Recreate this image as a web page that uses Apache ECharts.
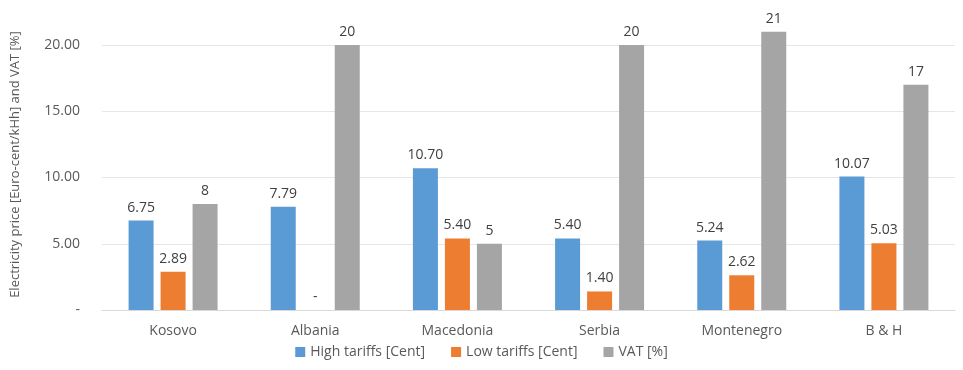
<!DOCTYPE html>
<html>
<head>
<meta charset="utf-8">
<script src="https://cdn.jsdelivr.net/npm/echarts@6/dist/echarts.min.js"></script>
<style>
  html, body { margin: 0; padding: 0; background: #fff; }
  #chart { width: 963px; height: 370px; }
</style>
</head>
<body>
<div id="chart"></div>
<script>
var countries = ['Kosovo', 'Albania', 'Macedonia', 'Serbia', 'Montenegro', 'B & H'];
var highTariffs = [6.75, 7.79, 10.70, 5.40, 5.24, 10.07];
var lowTariffs = [2.89, 0, 5.40, 1.40, 2.62, 5.03];
var vat = [8, 20, 5, 20, 21, 17];

var font = 'Open Sans';
var myChart = echarts.init(document.getElementById('chart'));

function priceFmt(p) {
  return p.value === 0 ? '-' : p.value.toFixed(2);
}

var labelStyle = {
  show: true,
  position: 'top',
  distance: 6,
  color: '#404040',
  fontSize: 14,
  fontFamily: font
};

var option = {
  textStyle: { fontFamily: font },
  grid: { left: 102, right: 8, top: 45, bottom: 60 },
  legend: {
    bottom: 6,
    left: 'center',
    icon: 'rect',
    itemWidth: 10,
    itemHeight: 10,
    itemGap: 26,
    textStyle: { color: '#595959', fontSize: 14, fontFamily: font },
    data: ['High tariffs [Cent]', 'Low tariffs [Cent]', 'VAT [%]']
  },
  xAxis: {
    type: 'category',
    data: countries,
    axisTick: { show: false },
    axisLine: { lineStyle: { color: '#d9d9d9' } },
    axisLabel: { color: '#595959', fontSize: 14, margin: 14, fontFamily: font }
  },
  yAxis: {
    type: 'value',
    min: 0,
    max: 20,
    interval: 5,
    name: 'Electricity price [Euro-cent/kHh] and VAT [%]',
    nameLocation: 'middle',
    nameGap: 80,
    nameTextStyle: { color: '#595959', fontSize: 13, fontFamily: font, padding: [0, 0, 0, 26] },
    axisLine: { show: false },
    axisTick: { show: false },
    splitLine: { lineStyle: { color: '#e6e6e6' } },
    axisLabel: {
      color: '#595959',
      fontSize: 14,
      margin: 22,
      fontFamily: font,
      formatter: function (v) { return v === 0 ? '-' : v.toFixed(2); }
    }
  },
  series: [
    {
      name: 'High tariffs [Cent]',
      type: 'bar',
      data: highTariffs,
      barWidth: 25,
      barGap: '28%',
      clip: false,
      itemStyle: { color: '#5B9BD5' },
      label: Object.assign({}, labelStyle, { formatter: priceFmt })
    },
    {
      name: 'Low tariffs [Cent]',
      type: 'bar',
      data: lowTariffs,
      barWidth: 25,
      barGap: '28%',
      clip: false,
      itemStyle: { color: '#ED7D31' },
      label: Object.assign({}, labelStyle, { formatter: priceFmt })
    },
    {
      name: 'VAT [%]',
      type: 'bar',
      data: vat,
      barWidth: 25,
      barGap: '28%',
      clip: false,
      itemStyle: { color: '#A5A5A5' },
      label: Object.assign({}, labelStyle, { formatter: function (p) { return String(p.value); } })
    }
  ]
};
myChart.setOption(option);
</script>
</body>
</html>
